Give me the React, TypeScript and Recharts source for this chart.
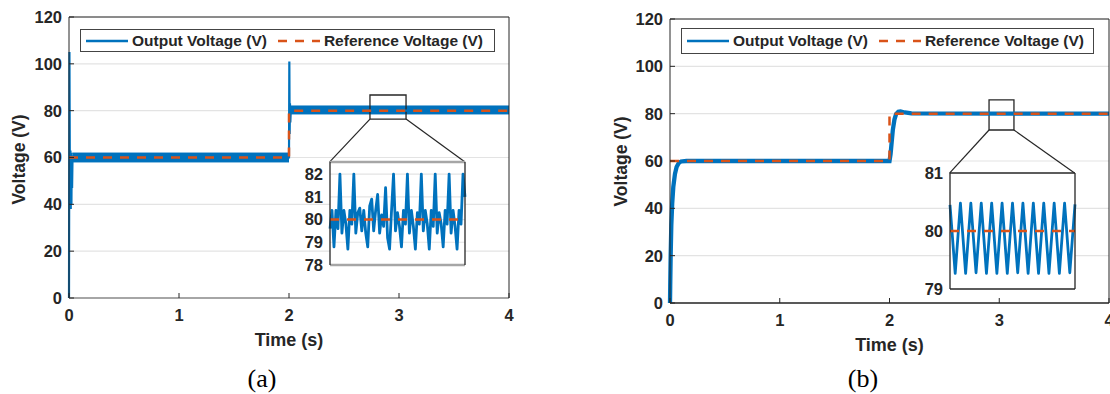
import {
  ComposedChart,
  LineChart,
  Line,
  Area,
  XAxis,
  YAxis,
  CartesianGrid,
  ReferenceLine,
  ReferenceArea,
  Legend,
} from "recharts";

const BLUE = "#0072BD";
const ORANGE = "#D95319";
const INK = "#262626";
const GRID = "#e3e3e3";
const SANS = '"Liberation Sans", Arial, Helvetica, sans-serif';
const DASH = "9 8";

const OUT_NAME = "Output Voltage (V)";
const REF_NAME = "Reference Voltage (V)";

const timeTicks = [0, 1, 2, 3, 4];
const voltTicks = [0, 20, 40, 60, 80, 100, 120];

// (a) output voltage: start-up spikes, then a ripple band around each set point
const outputA: [number, number][] = [
  [0, 0], [0.004, 105], [0.007, 64], [0.01, 44], [0.013, 63], [0.016, 38],
  [0.019, 62], [0.022, 40], [0.025, 61], [0.028, 47], [0.032, 60],
  [2.0, 60], [2.003, 101], [2.006, 70], [2.009, 83], [2.012, 75], [2.016, 80], [4, 80],
];
const rippleA: [number, number, number][][] = [
  [[0.03, 58.1, 61.9], [2.0, 58.1, 61.9]],
  [[2.006, 78.6, 82.0], [4.0, 78.6, 82.0]],
];
const referenceA: [number, number][] = [[0, 60], [2, 60], [2, 80], [4, 80]];
const zoomA = [2.736, 3.064, 76.4, 86.7];
const cornersA: [number, number][] = [[2.37, 58.1], [3.6, 58.1]];
const insetTicksA = [78, 79, 80, 81, 82];
const insetA = [
  79.6, 80.4, 78.8, 80.4, 79.6, 82.0, 79.4, 80.4, 79.8, 78.7,
  80.4, 79.8, 82.0, 79.4, 80.3, 80.5, 79.5, 80.4, 79.4, 78.8,
  80.6, 80.9, 79.5, 80.4, 81.1, 79.4, 80.2, 79.7, 81.4, 79.2,
  78.7, 80.4, 82.0, 79.5, 80.3, 79.7, 78.8, 80.4, 79.8, 82.0,
  79.4, 80.4, 79.7, 78.7, 80.3, 79.8, 82.0, 79.5, 80.4, 79.8,
  78.7, 80.4, 79.7, 82.0, 79.4, 80.3, 79.8, 78.8, 80.4, 79.8,
  82.0, 79.4, 80.4, 79.7, 78.7, 80.4, 79.8, 82.0, 81.0,
];

// (b) output voltage: smooth first-order rise, small ripple
const outputB: [number, number][] = [
  [0, 0], [0.002, 7], [0.006, 20], [0.012, 33], [0.02, 42], [0.03, 49],
  [0.045, 54.5], [0.06, 57.5], [0.08, 59.2], [0.1, 59.8], [0.15, 60],
  [2.0, 60], [2.01, 63], [2.02, 68], [2.03, 73], [2.045, 77.5], [2.06, 79.8],
  [2.08, 80.8], [2.1, 80.9], [2.14, 80.5], [2.2, 80.1], [4, 80],
];
const referenceB: [number, number][] = [[0, 60], [2, 60], [2, 80], [4, 80]];
const zoomB = [2.907, 3.134, 73.1, 85.8];
const cornersB: [number, number][] = [[2.547, 54.9], [3.686, 54.9]];
const insetTicksB = [79, 80, 81];
const insetB = [
  80.45, 79.27, 80.48, 79.27, 80.48, 79.28, 80.48, 79.27, 80.48, 79.27,
  80.48, 79.27, 80.48, 79.28, 80.48, 79.27, 80.48, 79.27, 80.48, 79.27,
  80.48, 79.27, 80.48, 79.28, 80.46,
];

const REF_LEVEL = 80;

const rows = (pts: [number, number][]) => pts.map(([t, v]) => ({ t, v }));
const bandRows = (pts: [number, number, number][]) =>
  pts.map(([t, lo, hi]) => ({ t, r: [lo, hi] }));

const legendDash: Record<string, string | undefined> = {
  [OUT_NAME]: undefined,
  [REF_NAME]: DASH,
};

const tickStyle = { fill: INK, fontSize: 16.5, fontWeight: 700, fontFamily: SANS };

function LegendBox({ payload, h }: any) {
  const items = (payload ?? []).filter((e: any) => e.value in legendDash);
  return (
    <div
      style={{
        boxSizing: "border-box",
        height: h,
        display: "flex",
        alignItems: "center",
        border: "1.5px solid #444",
        background: "#fff",
        paddingLeft: 5,
        fontFamily: SANS,
        fontWeight: 700,
        fontSize: 15.5,
        color: INK,
        whiteSpace: "nowrap",
      }}
    >
      {items.map((entry: any) => (
        <div key={entry.value} style={{ display: "flex", alignItems: "center", marginRight: 11 }}>
          <svg width={42} height={8}>
            <line
              x1={0}
              y1={4}
              x2={42}
              y2={4}
              stroke={entry.color}
              strokeWidth={2.5}
              strokeDasharray={legendDash[entry.value]}
            />
          </svg>
          <span style={{ marginLeft: 4 }}>{entry.value}</span>
        </div>
      ))}
    </div>
  );
}

type PanelProps = {
  left: number;
  margin: { top: number; right: number; bottom: number; left: number };
  output: [number, number][];
  ripple: [number, number, number][][];
  reference: [number, number][];
  outputWidth: number;
  zoom: number[];
  corners: [number, number][];
  legendBox: { top: number; left: number; width: number; height: number };
  baseColor: string;
  yLabelAt: [number, number];
};

function MainPanel(p: PanelProps) {
  const [lx, ly] = p.yLabelAt;
  return (
    <div style={{ position: "absolute", left: p.left, top: 0 }}>
      <ComposedChart width={520} height={394} margin={p.margin}>
        <CartesianGrid vertical={false} stroke={GRID} strokeWidth={1.2} />
        <XAxis
          dataKey="t"
          type="number"
          domain={[0, 4]}
          ticks={timeTicks}
          interval={0}
          height={30}
          tickSize={-5}
          tickMargin={16}
          tick={tickStyle}
          axisLine={{ stroke: p.baseColor, strokeWidth: 1.5 }}
          tickLine={{ stroke: INK }}
          label={{
            value: "Time (s)",
            position: "bottom",
            offset: 5,
            fill: INK,
            fontSize: 18,
            fontWeight: 700,
            fontFamily: SANS,
          }}
        />
        <XAxis
          xAxisId="top"
          orientation="top"
          type="number"
          domain={[0, 4]}
          ticks={timeTicks}
          interval={0}
          height={1}
          tick={false}
          tickSize={-5}
          axisLine={{ stroke: INK }}
          tickLine={{ stroke: INK }}
        />
        <YAxis
          type="number"
          domain={[0, 120]}
          ticks={voltTicks}
          interval={0}
          width={50}
          tickSize={-5}
          tickMargin={12}
          tick={tickStyle}
          axisLine={{ stroke: INK }}
          tickLine={{ stroke: INK }}
          label={() => (
            <text
              x={lx}
              y={ly}
              transform={`rotate(-90 ${lx} ${ly})`}
              textAnchor="middle"
              dominantBaseline="central"
              fill={INK}
              fontSize={17.5}
              fontWeight={700}
              fontFamily={SANS}
            >
              Voltage (V)
            </text>
          )}
        />
        <YAxis
          yAxisId="r"
          orientation="right"
          type="number"
          domain={[0, 120]}
          ticks={voltTicks}
          interval={0}
          width={1}
          tick={false}
          tickSize={-5}
          axisLine={{ stroke: INK }}
          tickLine={{ stroke: INK }}
        />
        {p.ripple.map((seg, i) => (
          <Area
            key={`ripple-${i}`}
            data={bandRows(seg)}
            dataKey="r"
            type="linear"
            stroke={BLUE}
            strokeWidth={1}
            fill={BLUE}
            fillOpacity={1}
            legendType="none"
            isAnimationActive={false}
          />
        ))}
        <Line
          name={OUT_NAME}
          data={rows(p.output)}
          dataKey="v"
          type="linear"
          stroke={BLUE}
          strokeWidth={p.outputWidth}
          dot={false}
          isAnimationActive={false}
        />
        <Line
          name={REF_NAME}
          data={rows(p.reference)}
          dataKey="v"
          type="linear"
          stroke={ORANGE}
          strokeWidth={2.5}
          strokeDasharray={DASH}
          dot={false}
          isAnimationActive={false}
        />
        <ReferenceArea
          x1={p.zoom[0]}
          x2={p.zoom[1]}
          y1={p.zoom[2]}
          y2={p.zoom[3]}
          fill="none"
          stroke={INK}
          strokeWidth={1.3}
          ifOverflow="visible"
        />
        <ReferenceLine
          segment={[{ x: p.zoom[0], y: p.zoom[2] }, { x: p.corners[0][0], y: p.corners[0][1] }]}
          stroke={INK}
          strokeWidth={1.2}
          ifOverflow="visible"
        />
        <ReferenceLine
          segment={[{ x: p.zoom[1], y: p.zoom[2] }, { x: p.corners[1][0], y: p.corners[1][1] }]}
          stroke={INK}
          strokeWidth={1.2}
          ifOverflow="visible"
        />
        <Legend
          verticalAlign="middle"
          align="center"
          layout="horizontal"
          content={(lp: any) => <LegendBox {...lp} h={p.legendBox.height} />}
          wrapperStyle={{
            position: "absolute",
            top: p.legendBox.top,
            left: p.legendBox.left,
            width: p.legendBox.width,
            height: p.legendBox.height,
          }}
        />
      </ComposedChart>
    </div>
  );
}

type InsetProps = {
  left: number;
  top: number;
  width: number;
  height: number;
  margin: { top: number; right: number; bottom: number; left: number };
  axisWidth: number;
  values: number[];
  domain: [number, number];
  ticks: number[];
  edgeColor: string;
  edgeWidth: number;
  grid: boolean;
};

function InsetPanel(p: InsetProps) {
  const data = p.values.map((v, i) => ({ i, v }));
  return (
    <div style={{ position: "absolute", left: p.left, top: p.top }}>
      <LineChart width={p.width} height={p.height} data={data} margin={p.margin}>
        <CartesianGrid
          vertical={false}
          horizontal={p.grid}
          stroke={GRID}
          strokeWidth={1.2}
          fill="#fff"
          fillOpacity={1}
        />
        <XAxis
          dataKey="i"
          type="number"
          domain={["dataMin", "dataMax"]}
          height={1}
          tick={false}
          tickLine={false}
          axisLine={{ stroke: p.edgeColor, strokeWidth: p.edgeWidth }}
        />
        <XAxis
          xAxisId="t"
          orientation="top"
          dataKey="i"
          type="number"
          domain={["dataMin", "dataMax"]}
          height={1}
          tick={false}
          tickLine={false}
          axisLine={{ stroke: p.edgeColor, strokeWidth: p.edgeWidth }}
        />
        <YAxis
          type="number"
          domain={p.domain}
          ticks={p.ticks}
          interval={0}
          allowDataOverflow
          width={p.axisWidth}
          tickSize={0}
          tickMargin={7}
          tickLine={false}
          tick={tickStyle}
          axisLine={{ stroke: INK, strokeWidth: 1.3 }}
        />
        <YAxis
          yAxisId="r"
          orientation="right"
          type="number"
          domain={p.domain}
          width={1}
          tick={false}
          tickLine={false}
          axisLine={{ stroke: INK, strokeWidth: 1.3 }}
        />
        <Line
          dataKey="v"
          type="linear"
          stroke={BLUE}
          strokeWidth={2.8}
          strokeLinejoin="round"
          dot={false}
          isAnimationActive={false}
        />
        <ReferenceLine y={REF_LEVEL} stroke={ORANGE} strokeWidth={2.5} strokeDasharray={DASH} />
      </LineChart>
    </div>
  );
}

const captionStyle = {
  position: "absolute" as const,
  top: 366,
  width: 60,
  textAlign: "center" as const,
  fontFamily: '"Liberation Serif", "Times New Roman", serif',
  fontSize: 26,
  lineHeight: "26px",
  color: "#000",
};

export default function App() {
  return (
    <div style={{ position: "relative", width: 1110, height: 394, background: "#fff", overflow: "hidden" }}>
      <style>{"body{margin:0}"}</style>
      <MainPanel
        left={0}
        margin={{ top: 16, right: 10, bottom: 66, left: 19 }}
        output={outputA}
        ripple={rippleA}
        reference={referenceA}
        outputWidth={2.2}
        zoom={zoomA}
        corners={cornersA}
        legendBox={{ top: 29, left: 80, width: 415, height: 23 }}
        baseColor="#8c8c8c"
        yLabelAt={[19, 159.5]}
      />
      <MainPanel
        left={590}
        margin={{ top: 18, right: 0, bottom: 61, left: 30 }}
        output={outputB}
        ripple={[]}
        reference={referenceB}
        outputWidth={4.3}
        zoom={zoomB}
        corners={cornersB}
        legendBox={{ top: 28, left: 91, width: 413, height: 26 }}
        baseColor={INK}
        yLabelAt={[30.5, 161.5]}
      />
      <InsetPanel
        left={296}
        top={160}
        width={171}
        height={115}
        margin={{ top: 1, right: 1, bottom: 9, left: 0 }}
        axisWidth={34}
        values={insetA}
        domain={[78, 82.53]}
        ticks={insetTicksA}
        edgeColor="#a6a6a6"
        edgeWidth={2.5}
        grid={true}
      />
      <InsetPanel
        left={913.5}
        top={163}
        width={163}
        height={136}
        margin={{ top: 9, right: 1, bottom: 9, left: 0 }}
        axisWidth={36}
        values={insetB}
        domain={[79, 81]}
        ticks={insetTicksB}
        edgeColor={INK}
        edgeWidth={1.3}
        grid={false}
      />
      <div style={{ ...captionStyle, left: 232 }}>(a)</div>
      <div style={{ ...captionStyle, left: 833 }}>(b)</div>
    </div>
  );
}
